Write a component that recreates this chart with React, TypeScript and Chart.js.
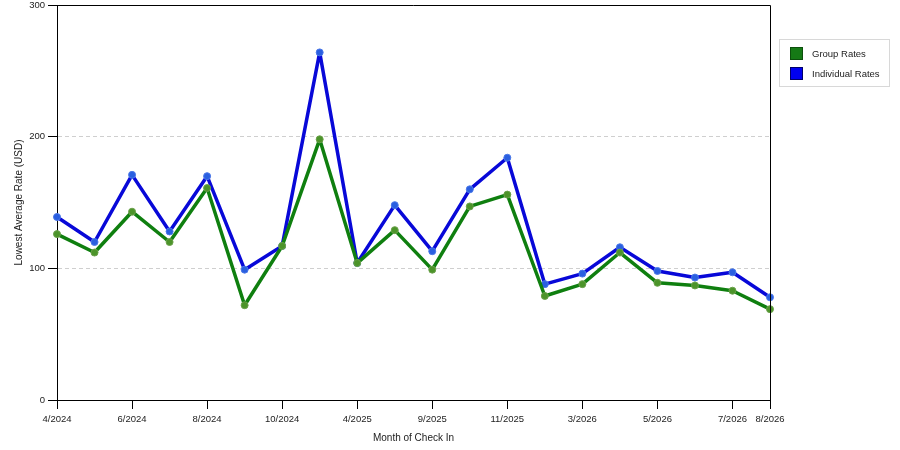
import React, { useEffect, useRef } from "react";
import { Chart, registerables } from "chart.js";

Chart.register(...registerables);

const months = [
  "4/2024", "5/2024", "6/2024", "7/2024", "8/2024", "9/2024", "10/2024", "11/2024",
  "4/2025", "6/2025", "9/2025", "10/2025", "11/2025", "1/2026", "3/2026", "4/2026",
  "5/2026", "6/2026", "7/2026", "8/2026",
];

const groupRates = [126, 112, 143, 120, 161, 72, 117, 198, 104, 129, 99, 147, 156, 79, 88, 112, 89, 87, 83, 69];
const individualRates = [139, 120, 171, 128, 170, 99, 117, 264, 104, 148, 113, 160, 184, 88, 96, 116, 98, 93, 97, 78];

const yTicks = [0, 100, 200, 300];

const FONT = "'Liberation Sans', Arial, sans-serif";

const framePlugin = {
  id: "frame",
  afterDraw(chart: any) {
    const { ctx, chartArea } = chart;
    ctx.save();
    ctx.strokeStyle = "#000";
    ctx.lineWidth = 1;
    ctx.beginPath();
    ctx.moveTo(chartArea.left, chartArea.top + 0.5);
    ctx.lineTo(chartArea.right + 0.5, chartArea.top + 0.5);
    ctx.lineTo(chartArea.right + 0.5, chartArea.bottom);
    ctx.stroke();
    ctx.restore();
  },
};

function isShown(i: number) {
  return i % 2 === 0 || i === months.length - 1;
}

export default function App() {
  const ref = useRef<HTMLCanvasElement | null>(null);

  useEffect(() => {
    if (!ref.current) return;
    const chart = new Chart(ref.current, {
      type: "line",
      data: {
        labels: months,
        datasets: [
          {
            label: "Group Rates",
            data: groupRates,
            borderColor: "#0f7f0f",
            backgroundColor: "#0f7f0f",
            borderWidth: 3.5,
            borderJoinStyle: "round",
            pointRadius: 3.5,
            pointBackgroundColor: "#4c942a",
            pointBorderColor: "#6aa04a",
            pointBorderWidth: 1,
            tension: 0,
          },
          {
            label: "Individual Rates",
            data: individualRates,
            borderColor: "#0808d8",
            backgroundColor: "#0808d8",
            borderWidth: 3.5,
            borderJoinStyle: "round",
            pointRadius: 3.5,
            pointBackgroundColor: "#2a5fe0",
            pointBorderColor: "#4a78e8",
            pointBorderWidth: 1,
            tension: 0,
          },
        ],
      },
      options: {
        animation: false,
        responsive: true,
        maintainAspectRatio: false,
        layout: { padding: { left: 0, right: 130, top: 5, bottom: 0 } },
        plugins: {
          legend: { display: false },
          tooltip: { enabled: false },
        },
        scales: {
          x: {
            type: "category",
            offset: false,
            afterFit(scale: any) {
              scale.height = 50;
              scale.paddingLeft = 0;
              scale.paddingRight = 0;
            },
            grid: {
              display: true,
              drawOnChartArea: false,
              drawTicks: true,
              tickLength: 9,
              offset: false,
              tickColor: (ctx: any) => (isShown(ctx.index) ? "#000" : "rgba(0,0,0,0)"),
            },
            border: { display: true, color: "#000", width: 1 },
            ticks: {
              autoSkip: false,
              maxRotation: 0,
              minRotation: 0,
              padding: 5,
              color: "#222",
              font: { family: FONT, size: 9.5 },
              callback: (_v: any, i: number) => (isShown(i) ? months[i] : ""),
            },
            title: {
              display: true,
              text: "Month of Check In",
              color: "#222",
              font: { family: FONT, size: 10 },
              padding: { top: 0, bottom: 6 },
            },
          },
          y: {
            min: 0,
            max: 300,
            afterFit(scale: any) {
              scale.width = 57;
              scale.paddingTop = 0;
              scale.paddingBottom = 0;
            },
            afterBuildTicks(scale: any) {
              scale.ticks = yTicks.map((v) => ({ value: v }));
            },
            grid: {
              display: true,
              drawOnChartArea: true,
              color: (ctx: any) =>
                ctx.tick && (ctx.tick.value === 0 || ctx.tick.value === 300) ? "rgba(0,0,0,0)" : "#cfcfcf",
              tickColor: "#000",
              tickLength: 9,
              lineWidth: 1,
            },
            border: { display: true, color: "#000", width: 1, dash: [4, 3] },
            ticks: {
              padding: 3,
              color: "#222",
              font: { family: FONT, size: 9.5 },
            },
            title: {
              display: true,
              text: "Lowest Average Rate (USD)",
              color: "#222",
              font: { family: FONT, size: 10 },
              padding: { top: 13, bottom: 0 },
            },
          },
        },
      },
      plugins: [framePlugin],
    } as any);
    return () => chart.destroy();
  }, []);

  const legendItems = [
    { label: "Group Rates", color: "#157a15", border: "#0c4f0c" },
    { label: "Individual Rates", color: "#0000f0", border: "#00006a" },
  ];

  return (
    <div style={{ position: "fixed", left: 0, top: 0, width: 900, height: 450, background: "#fff" }}>
      <canvas ref={ref} />
      <div
        style={{
          position: "absolute",
          left: 779,
          top: 39,
          width: 109,
          height: 46,
          border: "1px solid #d8d8d8",
          fontFamily: FONT,
          fontSize: 9.5,
          color: "#222",
        }}
      >
        {legendItems.map((it, i) => (
          <div key={it.label} style={{ position: "absolute", left: 10, top: 7 + i * 20, height: 13, display: "flex", alignItems: "center" }}>
            <span
              style={{
                display: "inline-block",
                width: 11,
                height: 11,
                background: it.color,
                border: `1px solid ${it.border}`,
                marginRight: 9,
              }}
            />
            <span style={{ whiteSpace: "nowrap" }}>{it.label}</span>
          </div>
        ))}
      </div>
    </div>
  );
}
